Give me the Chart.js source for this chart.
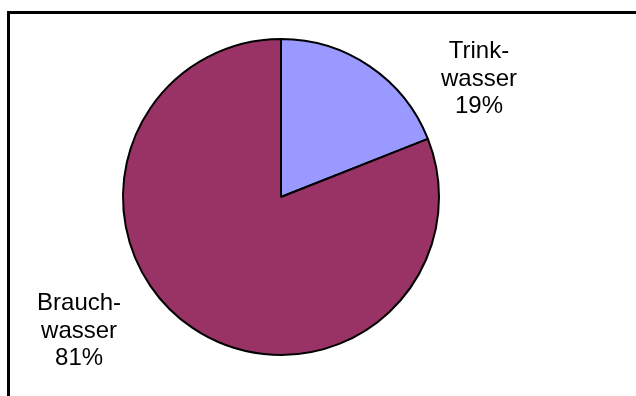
<!DOCTYPE html>
<html>
<head>
<meta charset="utf-8">
<script src="https://cdn.jsdelivr.net/npm/chart.js@4/dist/chart.umd.min.js"></script>
<style>
  html, body { margin: 0; padding: 0; background: #fff; }
  #wrap { position: relative; width: 636px; height: 396px; overflow: hidden; }
  #frame {
    position: absolute; left: 7px; top: 11px; right: -10px; bottom: -10px;
    border-top: 3px solid #000; border-left: 3px solid #000;
  }
  #canvas-pie-chart { position: absolute; left: 0; top: 0; }
</style>
</head>
<body>
<div id="wrap">
  <div id="frame"></div>
  <canvas id="canvas-pie-chart" width="636" height="396"></canvas>
</div>
<script>
// water use split
const categories = [['Trink-', 'wasser'], ['Brauch-', 'wasser']];
const shares = [19, 81];
const sliceColors = ['#9999FF', '#993366'];

// label anchors, relative to pie centre in units of the radius
const labelOffsets = [[1.253, -0.703], [-1.278, 0.892]];

// draws the category name and percentage next to each slice
const sliceLabels = {
  id: 'sliceLabels',
  afterDatasetsDraw(chart) {
    const { ctx } = chart;
    const meta = chart.getDatasetMeta(0);
    const total = shares.reduce((a, b) => a + b, 0);
    ctx.save();
    ctx.font = '24px "Liberation Sans", Arial, sans-serif';
    ctx.fillStyle = '#000';
    ctx.textAlign = 'center';
    ctx.textBaseline = 'alphabetic';
    meta.data.forEach((arc, i) => {
      const r = arc.outerRadius;
      const x = arc.x + labelOffsets[i][0] * r;
      const y = arc.y + labelOffsets[i][1] * r;
      const lines = categories[i].concat([Math.round(shares[i] / total * 100) + '%']);
      const lh = 27.5;
      lines.forEach((t, k) => {
        ctx.fillText(t, x, y + (k - 1) * lh);
      });
    });
    ctx.restore();
  },
};

const ctx = document.getElementById('canvas-pie-chart');
// eslint-disable-next-line
const myPieChart = new Chart(ctx, {
  type: 'pie',
  data: {
    labels: categories.map((c) => c.join('')),
    datasets: [{
      data: shares,
      backgroundColor: sliceColors,
      borderColor: '#000',
      borderWidth: 2,
    }],
  },
  options: {
    responsive: false,
    animation: false,
    layout: { padding: { left: 0, right: 74, top: 38, bottom: 40 } },
    plugins: {
      legend: { display: false },
      tooltip: { enabled: false },
    },
  },
  plugins: [sliceLabels],
});
</script>
</body>
</html>
